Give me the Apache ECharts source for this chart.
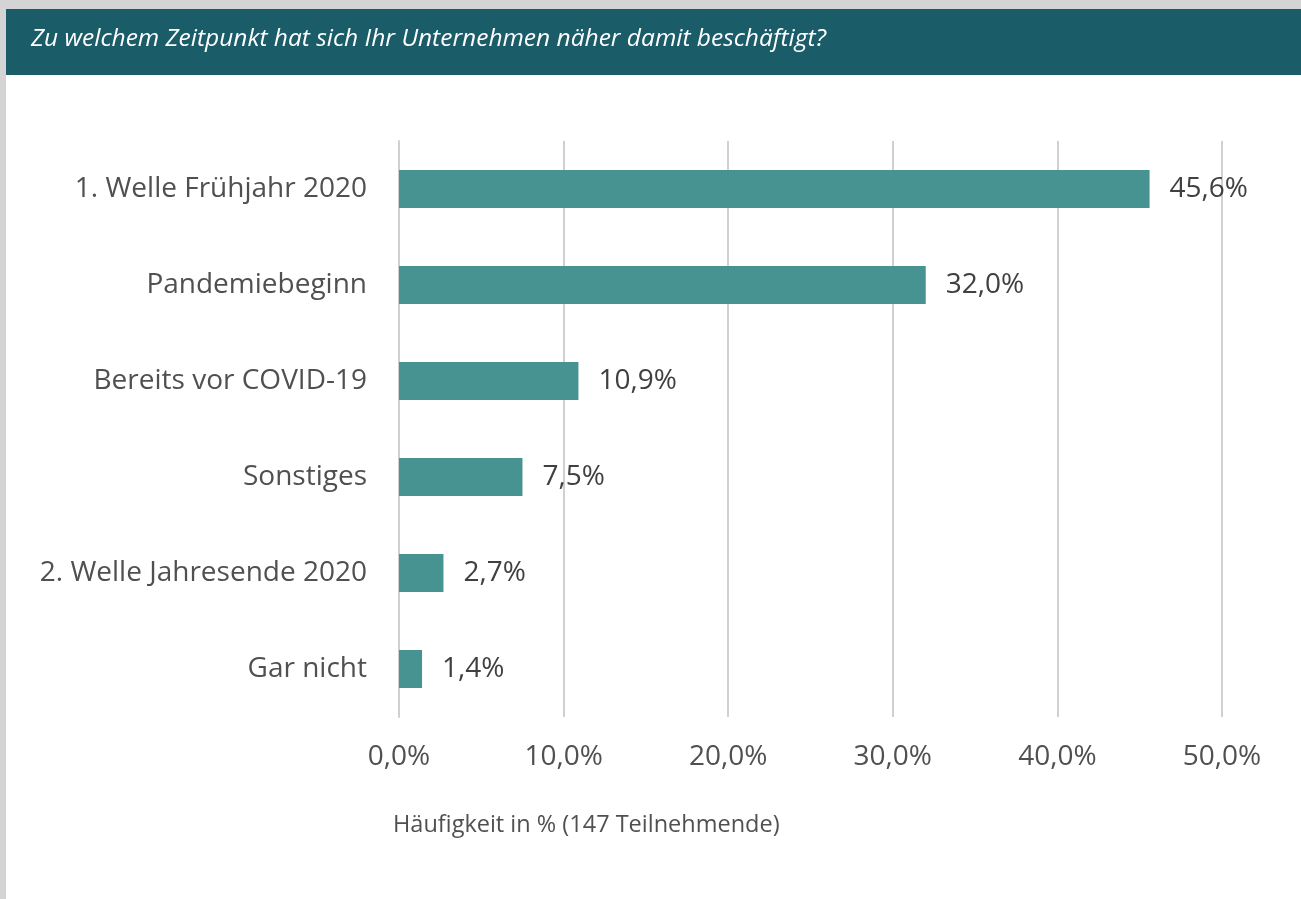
<!DOCTYPE html>
<html>
<head>
<meta charset="utf-8">
<script src="https://cdn.jsdelivr.net/npm/echarts@6/dist/echarts.min.js"></script>
<style>
html, body { margin: 0; padding: 0; background: #d4d4d4; }
#chart { width: 1301px; height: 899px; }
</style>
</head>
<body>
<div id="chart"></div>
<script>
// Daten
var categories = ['1. Welle Frühjahr 2020', 'Pandemiebeginn', 'Bereits vor COVID-19', 'Sonstiges', '2. Welle Jahresende 2020', 'Gar nicht'];
var values = [45.6, 32.0, 10.9, 7.5, 2.7, 1.4];
var xTicks = [0, 10, 20, 30, 40, 50];

var titleText = 'Zu welchem Zeitpunkt hat sich Ihr Unternehmen näher damit beschäftigt?';
var axisTitle = 'Häufigkeit in % (147 Teilnehmende)';

function fmt(v) {
	return v.toFixed(1).replace('.', ',') + '%';
}

var chart = echarts.init(document.getElementById('chart'));
var option = {
	backgroundColor: '#d4d4d4',
	textStyle: { fontFamily: 'Open Sans' },
	graphic: [
		{ type: 'rect', z: -10, shape: { x: 6, y: 9, width: 1295, height: 890 }, style: { fill: '#ffffff' } },
		{ type: 'rect', z: -5, shape: { x: 6, y: 9, width: 1295, height: 66 }, style: { fill: '#1b5c69' } },
		{ type: 'text', left: 31, top: 27, style: { text: titleText, fill: '#ffffff', font: 'italic 24.5px "Open Sans"' } },
		{ type: 'text', left: 393, top: 813, style: { text: axisTitle, fill: '#505050', font: '23.5px "Open Sans"' } }
	],
	grid: {
		left: 399,
		right: 79,
		top: 141,
		bottom: 182
	},
	xAxis: {
		type: 'value',
		min: xTicks[0],
		max: xTicks[xTicks.length - 1],
		interval: 10,
		axisLine: { show: false },
		axisTick: { show: false },
		splitLine: { lineStyle: { color: '#d0d0d0', width: 2 } },
		axisLabel: {
			margin: 26,
			fontSize: 28,
			color: '#505050',
			formatter: function (v) { return fmt(v); }
		}
	},
	yAxis: {
		type: 'category',
		inverse: true,
		data: categories,
		axisLine: { show: true, lineStyle: { color: '#d0d0d0', width: 2 } },
		axisTick: { show: false },
		axisLabel: { margin: 32, fontSize: 28, color: '#505050' }
	},
	series: [{
		type: 'bar',
		data: values,
		barWidth: 38,
		itemStyle: { color: '#469391' },
		label: {
			show: true,
			position: 'right',
			distance: 20,
			fontSize: 28,
			color: '#404040',
			formatter: function (p) { return fmt(p.value); }
		}
	}]
};
chart.setOption(option);
</script>
</body>
</html>
